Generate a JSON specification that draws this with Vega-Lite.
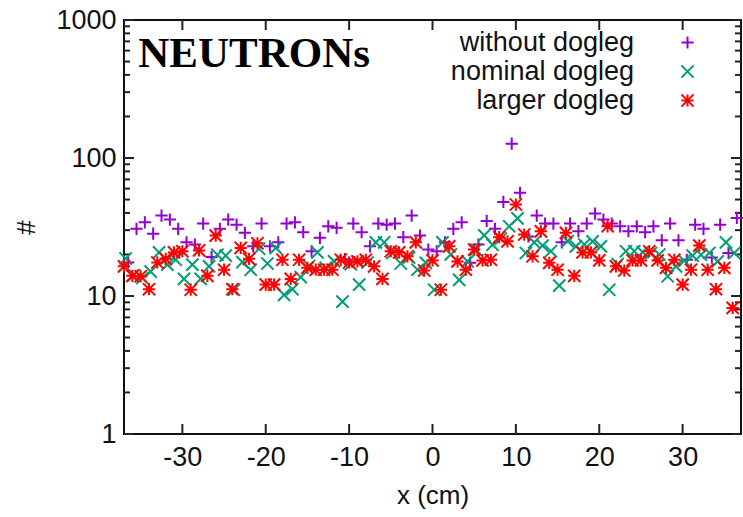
{
"$schema": "https://vega.github.io/schema/vega-lite/v6.json",
"width": 617, "height": 414,
"autosize": "none",
"padding": {"left": 124, "top": 20, "right": 2, "bottom": 83},
"background": "white",
"config": {
  "view": {"stroke": "#111", "strokeWidth": 2},
  "axis": {"grid": false, "domain": false, "labelFont": "Liberation Sans", "titleFont": "Liberation Sans", "labelFontSize": 27, "titleFontSize": 26, "labelColor": "#111", "titleColor": "#111", "titleFontWeight": "normal", "tickWidth": 2}
},
"datasets": {
"ymaj": [{"v":1},{"v":10},{"v":100},{"v":1000}],
"ymin": [{"v":2},{"v":3},{"v":4},{"v":5},{"v":6},{"v":7},{"v":8},{"v":9},{"v":20},{"v":30},{"v":40},{"v":50},{"v":60},{"v":70},{"v":80},{"v":90},{"v":200},{"v":300},{"v":400},{"v":500},{"v":600},{"v":700},{"v":800},{"v":900}],
"xmaj": [{"v":-30},{"v":-20},{"v":-10},{"v":0},{"v":10},{"v":20},{"v":30}],
"pts": [
{"s":"without dogleg","x":-36.5,"n":17.5},{"s":"without dogleg","x":-35.5,"n":30.7},{"s":"without dogleg","x":-34.5,"n":34.2},{"s":"without dogleg","x":-33.5,"n":28.3},{"s":"without dogleg","x":-32.5,"n":38.3},{"s":"without dogleg","x":-31.5,"n":35.8},{"s":"without dogleg","x":-30.5,"n":30.7},{"s":"without dogleg","x":-29.5,"n":24.5},{"s":"without dogleg","x":-28.5,"n":23.6},{"s":"without dogleg","x":-27.5,"n":33.5},{"s":"without dogleg","x":-26.5,"n":19.2},{"s":"without dogleg","x":-25.5,"n":30.7},{"s":"without dogleg","x":-24.5,"n":35.8},{"s":"without dogleg","x":-23.5,"n":32.9},{"s":"without dogleg","x":-22.5,"n":28.7},{"s":"without dogleg","x":-21.5,"n":22.9},{"s":"without dogleg","x":-20.5,"n":33.5},{"s":"without dogleg","x":-19.5,"n":22.9},{"s":"without dogleg","x":-18.5,"n":24.5},{"s":"without dogleg","x":-17.5,"n":33.5},{"s":"without dogleg","x":-16.5,"n":34.2},{"s":"without dogleg","x":-15.5,"n":29.0},{"s":"without dogleg","x":-14.5,"n":21.1},{"s":"without dogleg","x":-13.5,"n":26.4},{"s":"without dogleg","x":-12.5,"n":32.0},{"s":"without dogleg","x":-11.5,"n":31.2},{"s":"without dogleg","x":-10.5,"n":18.5},{"s":"without dogleg","x":-9.5,"n":33.5},{"s":"without dogleg","x":-8.5,"n":29.0},{"s":"without dogleg","x":-7.5,"n":22.9},{"s":"without dogleg","x":-6.5,"n":33.5},{"s":"without dogleg","x":-5.5,"n":32.9},{"s":"without dogleg","x":-4.5,"n":33.5},{"s":"without dogleg","x":-3.5,"n":26.7},{"s":"without dogleg","x":-2.5,"n":38.3},{"s":"without dogleg","x":-1.5,"n":27.4},{"s":"without dogleg","x":-0.5,"n":21.7},{"s":"without dogleg","x":0.5,"n":21.1},{"s":"without dogleg","x":1.5,"n":24.5},{"s":"without dogleg","x":2.5,"n":30.7},{"s":"without dogleg","x":3.5,"n":34.2},{"s":"without dogleg","x":4.5,"n":17.4},{"s":"without dogleg","x":5.5,"n":23.6},{"s":"without dogleg","x":6.5,"n":35.0},{"s":"without dogleg","x":7.5,"n":30.7},{"s":"without dogleg","x":8.5,"n":48.0},{"s":"without dogleg","x":9.5,"n":127},{"s":"without dogleg","x":10.5,"n":56.0},{"s":"without dogleg","x":11.5,"n":27.0},{"s":"without dogleg","x":12.5,"n":38.3},{"s":"without dogleg","x":13.5,"n":33.5},{"s":"without dogleg","x":14.5,"n":33.5},{"s":"without dogleg","x":15.5,"n":24.5},{"s":"without dogleg","x":16.5,"n":33.5},{"s":"without dogleg","x":17.5,"n":29.5},{"s":"without dogleg","x":18.5,"n":33.5},{"s":"without dogleg","x":19.5,"n":39.6},{"s":"without dogleg","x":20.5,"n":35.8},{"s":"without dogleg","x":21.5,"n":33.5},{"s":"without dogleg","x":22.5,"n":32.0},{"s":"without dogleg","x":23.5,"n":29.5},{"s":"without dogleg","x":24.5,"n":32.0},{"s":"without dogleg","x":25.5,"n":29.0},{"s":"without dogleg","x":26.5,"n":32.0},{"s":"without dogleg","x":27.5,"n":25.3},{"s":"without dogleg","x":28.5,"n":33.5},{"s":"without dogleg","x":29.5,"n":25.3},{"s":"without dogleg","x":30.5,"n":18.3},{"s":"without dogleg","x":31.5,"n":32.9},{"s":"without dogleg","x":32.5,"n":30.7},{"s":"without dogleg","x":33.5,"n":19.0},{"s":"without dogleg","x":34.5,"n":32.9},{"s":"without dogleg","x":35.5,"n":20.5},{"s":"without dogleg","x":36.5,"n":36.8},
{"s":"nominal dogleg","x":-36.8,"n":18.7},{"s":"nominal dogleg","x":-35.8,"n":14.2},{"s":"nominal dogleg","x":-34.8,"n":13.5},{"s":"nominal dogleg","x":-33.8,"n":15.0},{"s":"nominal dogleg","x":-32.8,"n":20.7},{"s":"nominal dogleg","x":-31.8,"n":16.9},{"s":"nominal dogleg","x":-30.8,"n":18.3},{"s":"nominal dogleg","x":-29.8,"n":13.3},{"s":"nominal dogleg","x":-28.8,"n":16.9},{"s":"nominal dogleg","x":-27.8,"n":13.3},{"s":"nominal dogleg","x":-26.8,"n":16.4},{"s":"nominal dogleg","x":-25.8,"n":19.9},{"s":"nominal dogleg","x":-24.8,"n":19.6},{"s":"nominal dogleg","x":-23.8,"n":11.1},{"s":"nominal dogleg","x":-22.8,"n":17.6},{"s":"nominal dogleg","x":-21.8,"n":15.5},{"s":"nominal dogleg","x":-20.8,"n":22.0},{"s":"nominal dogleg","x":-19.8,"n":17.2},{"s":"nominal dogleg","x":-18.8,"n":22.3},{"s":"nominal dogleg","x":-17.8,"n":10.2},{"s":"nominal dogleg","x":-16.8,"n":11.2},{"s":"nominal dogleg","x":-15.8,"n":13.7},{"s":"nominal dogleg","x":-14.8,"n":16.5},{"s":"nominal dogleg","x":-13.8,"n":20.7},{"s":"nominal dogleg","x":-12.8,"n":16.0},{"s":"nominal dogleg","x":-11.8,"n":17.8},{"s":"nominal dogleg","x":-10.8,"n":9.1},{"s":"nominal dogleg","x":-9.8,"n":17.0},{"s":"nominal dogleg","x":-8.8,"n":12.1},{"s":"nominal dogleg","x":-7.8,"n":17.5},{"s":"nominal dogleg","x":-6.8,"n":24.5},{"s":"nominal dogleg","x":-5.8,"n":24.5},{"s":"nominal dogleg","x":-4.8,"n":20.5},{"s":"nominal dogleg","x":-3.8,"n":17.2},{"s":"nominal dogleg","x":-2.8,"n":19.0},{"s":"nominal dogleg","x":-1.8,"n":15.5},{"s":"nominal dogleg","x":-0.8,"n":17.4},{"s":"nominal dogleg","x":0.2,"n":11.1},{"s":"nominal dogleg","x":1.2,"n":24.5},{"s":"nominal dogleg","x":2.2,"n":20.0},{"s":"nominal dogleg","x":3.2,"n":13.1},{"s":"nominal dogleg","x":4.2,"n":17.8},{"s":"nominal dogleg","x":5.2,"n":21.7},{"s":"nominal dogleg","x":6.2,"n":27.5},{"s":"nominal dogleg","x":7.2,"n":23.5},{"s":"nominal dogleg","x":8.2,"n":26.0},{"s":"nominal dogleg","x":9.2,"n":32.0},{"s":"nominal dogleg","x":10.2,"n":36.5},{"s":"nominal dogleg","x":11.2,"n":20.5},{"s":"nominal dogleg","x":12.2,"n":24.5},{"s":"nominal dogleg","x":13.2,"n":23.2},{"s":"nominal dogleg","x":14.2,"n":21.1},{"s":"nominal dogleg","x":15.2,"n":11.9},{"s":"nominal dogleg","x":16.2,"n":25.0},{"s":"nominal dogleg","x":17.2,"n":22.9},{"s":"nominal dogleg","x":18.2,"n":23.6},{"s":"nominal dogleg","x":19.2,"n":24.9},{"s":"nominal dogleg","x":20.2,"n":22.9},{"s":"nominal dogleg","x":21.2,"n":11.1},{"s":"nominal dogleg","x":22.2,"n":17.0},{"s":"nominal dogleg","x":23.2,"n":21.1},{"s":"nominal dogleg","x":24.2,"n":21.1},{"s":"nominal dogleg","x":25.2,"n":20.8},{"s":"nominal dogleg","x":26.2,"n":20.5},{"s":"nominal dogleg","x":27.2,"n":20.0},{"s":"nominal dogleg","x":28.2,"n":13.9},{"s":"nominal dogleg","x":29.2,"n":16.4},{"s":"nominal dogleg","x":30.2,"n":18.0},{"s":"nominal dogleg","x":31.2,"n":19.6},{"s":"nominal dogleg","x":32.2,"n":19.9},{"s":"nominal dogleg","x":33.2,"n":20.5},{"s":"nominal dogleg","x":34.2,"n":17.8},{"s":"nominal dogleg","x":35.2,"n":24.5},{"s":"nominal dogleg","x":36.2,"n":20.5},
{"s":"larger dogleg","x":-37,"n":16.4},{"s":"larger dogleg","x":-36,"n":14.0},{"s":"larger dogleg","x":-35,"n":13.9},{"s":"larger dogleg","x":-34,"n":11.2},{"s":"larger dogleg","x":-33,"n":17.5},{"s":"larger dogleg","x":-32,"n":18.6},{"s":"larger dogleg","x":-31,"n":20.7},{"s":"larger dogleg","x":-30,"n":21.1},{"s":"larger dogleg","x":-29,"n":11.1},{"s":"larger dogleg","x":-28,"n":21.4},{"s":"larger dogleg","x":-27,"n":14.0},{"s":"larger dogleg","x":-26,"n":27.4},{"s":"larger dogleg","x":-25,"n":15.5},{"s":"larger dogleg","x":-24,"n":11.2},{"s":"larger dogleg","x":-23,"n":22.3},{"s":"larger dogleg","x":-22,"n":18.6},{"s":"larger dogleg","x":-21,"n":24.1},{"s":"larger dogleg","x":-20,"n":12.1},{"s":"larger dogleg","x":-19,"n":12.1},{"s":"larger dogleg","x":-18,"n":18.3},{"s":"larger dogleg","x":-17,"n":13.3},{"s":"larger dogleg","x":-16,"n":18.3},{"s":"larger dogleg","x":-15,"n":16.0},{"s":"larger dogleg","x":-14,"n":15.5},{"s":"larger dogleg","x":-13,"n":15.5},{"s":"larger dogleg","x":-12,"n":15.5},{"s":"larger dogleg","x":-11,"n":18.3},{"s":"larger dogleg","x":-10,"n":17.5},{"s":"larger dogleg","x":-9,"n":17.8},{"s":"larger dogleg","x":-8,"n":18.3},{"s":"larger dogleg","x":-7,"n":16.4},{"s":"larger dogleg","x":-6,"n":13.3},{"s":"larger dogleg","x":-5,"n":21.1},{"s":"larger dogleg","x":-4,"n":20.7},{"s":"larger dogleg","x":-3,"n":19.4},{"s":"larger dogleg","x":-2,"n":24.5},{"s":"larger dogleg","x":-1,"n":15.3},{"s":"larger dogleg","x":0,"n":18.1},{"s":"larger dogleg","x":1,"n":11.1},{"s":"larger dogleg","x":2,"n":22.9},{"s":"larger dogleg","x":3,"n":17.8},{"s":"larger dogleg","x":4,"n":15.5},{"s":"larger dogleg","x":5,"n":21.7},{"s":"larger dogleg","x":6,"n":18.1},{"s":"larger dogleg","x":7,"n":18.3},{"s":"larger dogleg","x":8,"n":26.7},{"s":"larger dogleg","x":9,"n":24.9},{"s":"larger dogleg","x":10,"n":46.0},{"s":"larger dogleg","x":11,"n":27.9},{"s":"larger dogleg","x":12,"n":19.4},{"s":"larger dogleg","x":13,"n":29.4},{"s":"larger dogleg","x":14,"n":17.4},{"s":"larger dogleg","x":15,"n":15.5},{"s":"larger dogleg","x":16,"n":28.7},{"s":"larger dogleg","x":17,"n":14.0},{"s":"larger dogleg","x":18,"n":20.7},{"s":"larger dogleg","x":19,"n":20.7},{"s":"larger dogleg","x":20,"n":18.1},{"s":"larger dogleg","x":21,"n":32.0},{"s":"larger dogleg","x":22,"n":16.4},{"s":"larger dogleg","x":23,"n":15.3},{"s":"larger dogleg","x":24,"n":18.1},{"s":"larger dogleg","x":25,"n":18.1},{"s":"larger dogleg","x":26,"n":21.1},{"s":"larger dogleg","x":27,"n":18.1},{"s":"larger dogleg","x":28,"n":16.0},{"s":"larger dogleg","x":29,"n":18.3},{"s":"larger dogleg","x":30,"n":12.1},{"s":"larger dogleg","x":31,"n":15.5},{"s":"larger dogleg","x":32,"n":23.2},{"s":"larger dogleg","x":33,"n":15.5},{"s":"larger dogleg","x":34,"n":11.2},{"s":"larger dogleg","x":35,"n":16.0},{"s":"larger dogleg","x":36,"n":8.2}
]
},
"resolve": {"axis": {"x": "independent", "y": "independent"}},
"layer": [
  {
    "data": {"name": "ymaj"},
    "mark": {"type": "rule", "strokeWidth": 2, "color": "#222"},
    "encoding": {
      "x": {"datum": -37, "type": "quantitative", "scale": {"domain": [-37, 37], "nice": false, "zero": false}, "axis": null},
      "x2": {"datum": -35.8},
      "y": {"field": "v", "type": "quantitative", "scale": {"type": "log", "domain": [1, 1000], "nice": false}, "axis": null}
    }
  },
  {
    "data": {"name": "ymaj"},
    "mark": {"type": "rule", "strokeWidth": 2, "color": "#222"},
    "encoding": {
      "x": {"datum": 37, "type": "quantitative", "scale": {"domain": [-37, 37], "nice": false, "zero": false}, "axis": null},
      "x2": {"datum": 35.8},
      "y": {"field": "v", "type": "quantitative", "scale": {"type": "log", "domain": [1, 1000], "nice": false}, "axis": null}
    }
  },
  {
    "data": {"name": "ymin"},
    "mark": {"type": "rule", "strokeWidth": 2, "color": "#222"},
    "encoding": {
      "x": {"datum": -37, "type": "quantitative", "scale": {"domain": [-37, 37], "nice": false, "zero": false}, "axis": null},
      "x2": {"datum": -36.28},
      "y": {"field": "v", "type": "quantitative", "scale": {"type": "log", "domain": [1, 1000], "nice": false}, "axis": null}
    }
  },
  {
    "data": {"name": "ymin"},
    "mark": {"type": "rule", "strokeWidth": 2, "color": "#222"},
    "encoding": {
      "x": {"datum": 37, "type": "quantitative", "scale": {"domain": [-37, 37], "nice": false, "zero": false}, "axis": null},
      "x2": {"datum": 36.28},
      "y": {"field": "v", "type": "quantitative", "scale": {"type": "log", "domain": [1, 1000], "nice": false}, "axis": null}
    }
  },
  {
    "data": {"name": "xmaj"},
    "mark": {"type": "rule", "strokeWidth": 2, "color": "#222"},
    "encoding": {
      "x": {"field": "v", "type": "quantitative", "scale": {"domain": [-37, 37], "nice": false, "zero": false}, "axis": null},
      "y": {"datum": 1, "type": "quantitative", "scale": {"type": "log", "domain": [1, 1000], "nice": false}, "axis": null},
      "y2": {"datum": 1.182}
    }
  },
  {
    "data": {"name": "xmaj"},
    "mark": {"type": "rule", "strokeWidth": 2, "color": "#222"},
    "encoding": {
      "x": {"field": "v", "type": "quantitative", "scale": {"domain": [-37, 37], "nice": false, "zero": false}, "axis": null},
      "y": {"datum": 1000, "type": "quantitative", "scale": {"type": "log", "domain": [1, 1000], "nice": false}, "axis": null},
      "y2": {"datum": 846}
    }
  },
  {
    "data": {"name": "pts"},
    "mark": {"type": "point", "filled": false, "opacity": 1, "strokeWidth": 2, "size": 150},
    "encoding": {
      "x": {"field": "x", "type": "quantitative", "scale": {"domain": [-37, 37], "nice": false, "zero": false},
            "axis": {"orient": "bottom", "values": [-30, -20, -10, 0, 10, 20, 30], "labelExpr": "'' + datum.value", "ticks": false, "labelPadding": 10, "title": "x (cm)", "titlePadding": 12}},
      "y": {"field": "n", "type": "quantitative", "scale": {"type": "log", "domain": [1, 1000], "nice": false},
            "axis": {"orient": "left", "values": [1, 10, 100, 1000], "labelExpr": "'' + datum.value", "ticks": false, "labelPadding": 8, "title": "#", "titlePadding": 16}},
      "color": {"field": "s", "type": "nominal",
                "scale": {"domain": ["without dogleg", "nominal dogleg", "larger dogleg"], "range": ["#9400d3", "#009e73", "#ff0000"]},
                "legend": {"title": null, "orient": "none", "legendX": 550, "legendY": 9, "labelFont": "Liberation Sans", "labelFontSize": 27, "labelColor": "#111", "labelAlign": "right", "labelOffset": -67, "symbolStrokeWidth": 2, "symbolSize": 150, "rowPadding": 1, "labelLimit": 400}},
      "shape": {"field": "s", "type": "nominal",
                "scale": {"domain": ["without dogleg", "nominal dogleg", "larger dogleg"], "range": ["M-1,0L1,0M0,-1L0,1", "M-1,-1L1,1M-1,1L1,-1", "M-1,0L1,0M0,-1L0,1M-1,-1L1,1M-1,1L1,-1"]},
                "legend": {"title": null, "orient": "none", "legendX": 550, "legendY": 9, "labelFont": "Liberation Sans", "labelFontSize": 27, "labelColor": "#111", "labelAlign": "right", "labelOffset": -67, "symbolStrokeWidth": 2, "symbolSize": 150, "rowPadding": 1, "labelLimit": 400}}
    }
  },
  {
    "data": {"name": "pts"},
    "mark": {"type": "text", "text": "NEUTRONs", "font": "Liberation Serif", "fontWeight": "bold", "fontSize": 43, "align": "left", "baseline": "alphabetic", "color": "#000"},
    "encoding": {
      "x": {"datum": -35.3, "type": "quantitative", "scale": {"domain": [-37, 37], "nice": false, "zero": false}, "axis": null},
      "y": {"datum": 456, "type": "quantitative", "scale": {"type": "log", "domain": [1, 1000], "nice": false}, "axis": null}
    },
    "transform": [{"filter": "datum.x == 10 && datum.s == 'larger dogleg'"}]
  }
]
}
